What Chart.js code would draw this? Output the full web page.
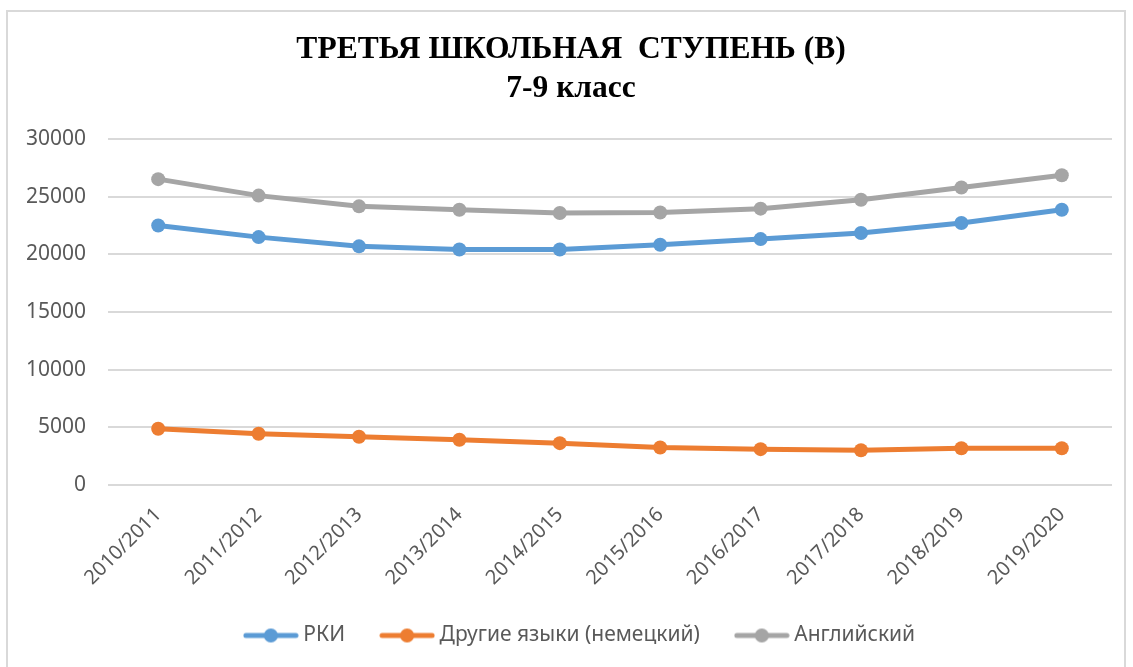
<!DOCTYPE html>
<html>
<head>
<meta charset="utf-8">
<script src="https://cdn.jsdelivr.net/npm/chart.js@4"></script>
<style>
  html, body { margin: 0; padding: 0; background: #fff; }
  #wrap { position: relative; width: 1133px; height: 667px; }
  #frame { position: absolute; left: 6px; top: 10px; width: 1120px; height: 670px; border: 2px solid #d9d9d9; box-sizing: border-box; pointer-events: none; }
</style>
</head>
<body>
<div id="wrap">
  <canvas id="c" width="1133" height="667"></canvas>
  <div id="frame"></div>
</div>
<script>
const categories = ["2010/2011","2011/2012","2012/2013","2013/2014","2014/2015","2015/2016","2016/2017","2017/2018","2018/2019","2019/2020"];
const rki = [22510, 21500, 20700, 20420, 20420, 20840, 21330, 21860, 22720, 23880];
const otherLangs = [4880, 4440, 4180, 3920, 3630, 3250, 3110, 3020, 3190, 3190];
const english = [26530, 25100, 24170, 23880, 23590, 23640, 23970, 24740, 25810, 26860];
const seriesNames = ["РКИ", "Другие языки (немецкий)", "Английский"];
const titleLines = ["ТРЕТЬЯ ШКОЛЬНАЯ  СТУПЕНЬ (В)", "7-9 класс"];
const yTicks = [0, 5000, 10000, 15000, 20000, 25000, 30000];

const colors = ["#5b9bd5", "#ed7d31", "#a5a5a5"];

function legendMarker(color) {
  const cv = document.createElement('canvas');
  cv.width = 56; cv.height = 18;
  const ctx = cv.getContext('2d');
  ctx.strokeStyle = color; ctx.lineWidth = 5; ctx.lineCap = 'round';
  ctx.beginPath(); ctx.moveTo(3, 9); ctx.lineTo(53, 9); ctx.stroke();
  ctx.fillStyle = color;
  ctx.beginPath(); ctx.arc(28, 9, 7, 0, Math.PI * 2); ctx.fill();
  return cv;
}

const mk = (label, data, color) => ({
  label, data,
  borderColor: color, backgroundColor: color,
  borderWidth: 5, pointRadius: 7, pointHoverRadius: 7,
  pointBackgroundColor: color, pointBorderColor: color, pointBorderWidth: 0,
  pointStyle: 'circle',
  tension: 0
});

const shiftBlocks = {
  id: 'shiftBlocks',
  afterLayout(chart) {
    if (chart.titleBlock) { chart.titleBlock.left += 15; chart.titleBlock.right += 15; }
    if (chart.legend) { chart.legend.left += 26; chart.legend.right += 26; }
  }
};

const chart = new Chart(document.getElementById('c'), {
  type: 'line',
  data: {
    labels: categories,
    datasets: [
      mk(seriesNames[0], rki, colors[0]),
      mk(seriesNames[1], otherLangs, colors[1]),
      mk(seriesNames[2], english, colors[2])
    ]
  },
  plugins: [shiftBlocks],
  options: {
    responsive: false,
    animation: false,
    layout: { padding: { left: 0, right: 21, top: 0, bottom: 11 } },
    plugins: {
      title: {
        display: true,
        text: titleLines,
        color: '#000',
        font: { family: '"Liberation Serif", "Times New Roman", serif', size: 31.5, weight: 'bold', lineHeight: 1.24 },
        padding: { top: 30, bottom: 31 }
      },
      legend: {
        position: 'bottom',
        labels: {
          usePointStyle: true,
          pointStyleWidth: 44,
          generateLabels(chart) {
            return chart.data.datasets.map((ds, i) => ({
              text: ds.label,
              pointStyle: legendMarker(ds.borderColor),
              fillStyle: ds.borderColor,
              strokeStyle: ds.borderColor,
              lineWidth: 0,
              fontColor: '#595959',
              datasetIndex: i,
              hidden: false
            }));
          },
          color: '#595959',
          font: { family: '"Noto Sans", sans-serif', size: 21 },
          padding: 40,
          boxHeight: 18
        }
      },
      tooltip: { enabled: false }
    },
    scales: {
      x: {
        offset: true,
        grid: { display: false, drawTicks: false },
        border: { display: false },
        ticks: {
          color: '#595959',
          font: { family: '"Noto Sans", sans-serif', size: 20 },
          minRotation: 45, maxRotation: 45,
          padding: 18
        },
        afterFit(scale) { scale.height = 100; }
      },
      y: {
        min: 0, max: 30000,
        afterBuildTicks(scale) { scale.ticks = yTicks.map(v => ({ value: v })); },
        grid: { color: '#d9d9d9', lineWidth: 2, drawTicks: false },
        border: { display: false },
        ticks: {
          color: '#595959',
          font: { family: '"Noto Sans", sans-serif', size: 21 },
          padding: 22,
          callback: v => String(v)
        },
        afterFit(scale) { scale.width = 108; }
      }
    }
  }
});
</script>
</body>
</html>
